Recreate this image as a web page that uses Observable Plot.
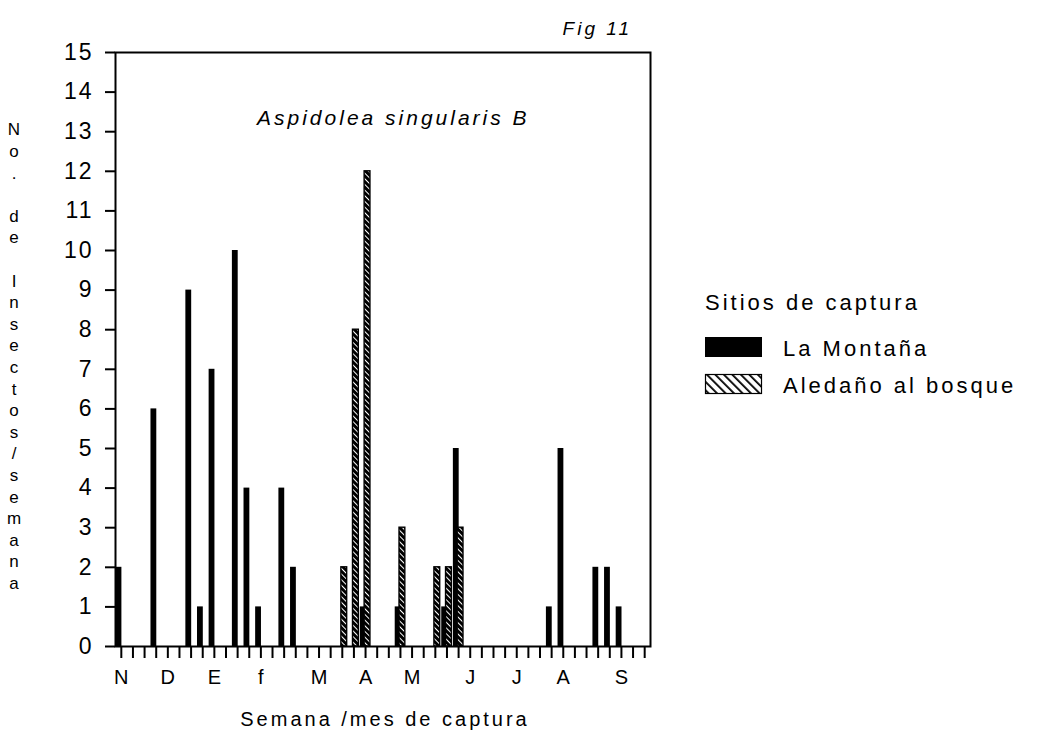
<!DOCTYPE html>
<html><head><meta charset="utf-8">
<script src="https://cdn.jsdelivr.net/npm/d3@7"></script>
<script src="https://cdn.jsdelivr.net/npm/@observablehq/plot@0.6"></script>
<style>body{margin:0;background:#fff;}</style>
</head><body><div id="chart"></div>
<script>
// ---- data ----
const weeksMontana  = [0,3,6,7,8,10,11,12,14,15,21,24,28,29,37,38,41,42,43];
const valuesMontana = [2,6,9,1,7,10,4,1,4,2,1,1,1,5,1,5,2,2,1];
const weeksAledano  = [19,20,21,24,27,28,29];
const valuesAledano = [2,8,12,3,2,2,3];
const seriesNames = ["La Montaña", "Aledaño al bosque"];
const monthLabels = ["N","D","E","f","M","A","M","J","J","A","S"];
const monthWeeks  = [0,4,8,12,17,21,25,30,34,38,43];
const weekTicks = d3.range(0, 46);
const yTicks = d3.range(0, 16);
const chartTitle = "Aspidolea singularis B";
const figLabel = "Fig 11";
const xTitle = "Semana /mes de captura";
const yTitle = "No. de Insectos/semana";
const legendTitle = "Sitios de captura";

const montana = weeksMontana.map((w, i) => ({week: w, value: valuesMontana[i]}));
const aledano = weeksAledano.map((w, i) => ({week: w, value: valuesAledano[i]}));
const tickLabel = new Map(monthWeeks.map((w, i) => [w, monthLabels[i]]));

const FONT = "'Liberation Sans', Arial, Helvetica, sans-serif";

const plot = Plot.plot({
  width: 1048, height: 732,
  marginLeft: 115, marginRight: 398, marginTop: 52, marginBottom: 86,
  style: {fontFamily: FONT, background: "#fff", color: "#000"},
  x: {domain: [-0.5, 45.5], axis: null},
  y: {domain: [0, 15], axis: null},
  marks: [
    Plot.rectY(montana, {x1: d => d.week - 0.45, x2: d => d.week + 0.05, y: "value", fill: "#000"}),
    Plot.rectY(aledano, {x1: d => d.week - 0.08, x2: d => d.week + 0.42, y: "value",
      fill: "url(#hatchBar)", stroke: "#000", strokeWidth: 1.4}),
    Plot.axisY({ticks: yTicks, tickSize: 10, tickPadding: 12, fontSize: 23, strokeWidth: 2,
      label: null, tickFormat: d => String(d)}),
    Plot.axisX({ticks: weekTicks, tickSize: 12, tickPadding: 11, fontSize: 20, strokeWidth: 2,
      label: null, tickFormat: d => tickLabel.get(d) ?? ""}),
    Plot.frame({stroke: "#000", strokeWidth: 2})
  ]
});

const svg = d3.select(plot);
const defs = svg.insert("defs", ":first-child");
const pb = defs.append("pattern").attr("id", "hatchBar").attr("patternUnits", "userSpaceOnUse")
  .attr("width", 4).attr("height", 4).attr("patternTransform", "rotate(-45)");
pb.append("rect").attr("width", 4).attr("height", 4).attr("fill", "#fff");
pb.append("rect").attr("width", 3).attr("height", 4).attr("fill", "#000");
const pl = defs.append("pattern").attr("id", "hatchLegend").attr("patternUnits", "userSpaceOnUse")
  .attr("width", 6).attr("height", 6).attr("patternTransform", "rotate(-45)");
pl.append("rect").attr("width", 6).attr("height", 6).attr("fill", "#fff");
pl.append("rect").attr("width", 1.8).attr("height", 6).attr("fill", "#000");

svg.selectAll('g[aria-label="y-axis tick label"] text').style("letter-spacing", "2px");

const ann = svg.append("g").attr("font-family", FONT).attr("fill", "#000").attr("text-anchor", "start");
ann.append("text").attr("x", 632).attr("y", 35).attr("text-anchor", "end")
  .attr("font-size", 19).attr("font-style", "italic").style("letter-spacing", "3px").text(figLabel);
ann.append("text").attr("x", 257).attr("y", 125).attr("text-anchor", "start")
  .attr("font-size", 21).attr("font-style", "italic").style("letter-spacing", "3px").text(chartTitle);
ann.append("text").attr("x", 385).attr("y", 726).attr("text-anchor", "middle")
  .attr("font-size", 20).style("letter-spacing", "3px").text(xTitle);
const yl = ann.append("g").attr("font-size", 17).attr("text-anchor", "middle");
Array.from(yTitle).forEach((ch, i) => {
  yl.append("text").attr("x", 14).attr("y", 131 + 21.6 * i).attr("dominant-baseline", "middle").text(ch);
});

// legend
const lg = ann.append("g").attr("font-size", 22).attr("text-anchor", "start").style("letter-spacing", "3px");
lg.append("text").attr("x", 705).attr("y", 310).text(legendTitle);
lg.append("rect").attr("x", 705).attr("y", 337).attr("width", 57).attr("height", 20).attr("fill", "#000");
lg.append("text").attr("x", 783).attr("y", 356).text(seriesNames[0]);
lg.append("rect").attr("x", 705.5).attr("y", 374.5).attr("width", 56).attr("height", 19)
  .attr("fill", "url(#hatchLegend)").attr("stroke", "#000").attr("stroke-width", 1.2);
lg.append("text").attr("x", 783).attr("y", 393).text(seriesNames[1]);

document.getElementById("chart").appendChild(plot);
</script>
</body></html>
